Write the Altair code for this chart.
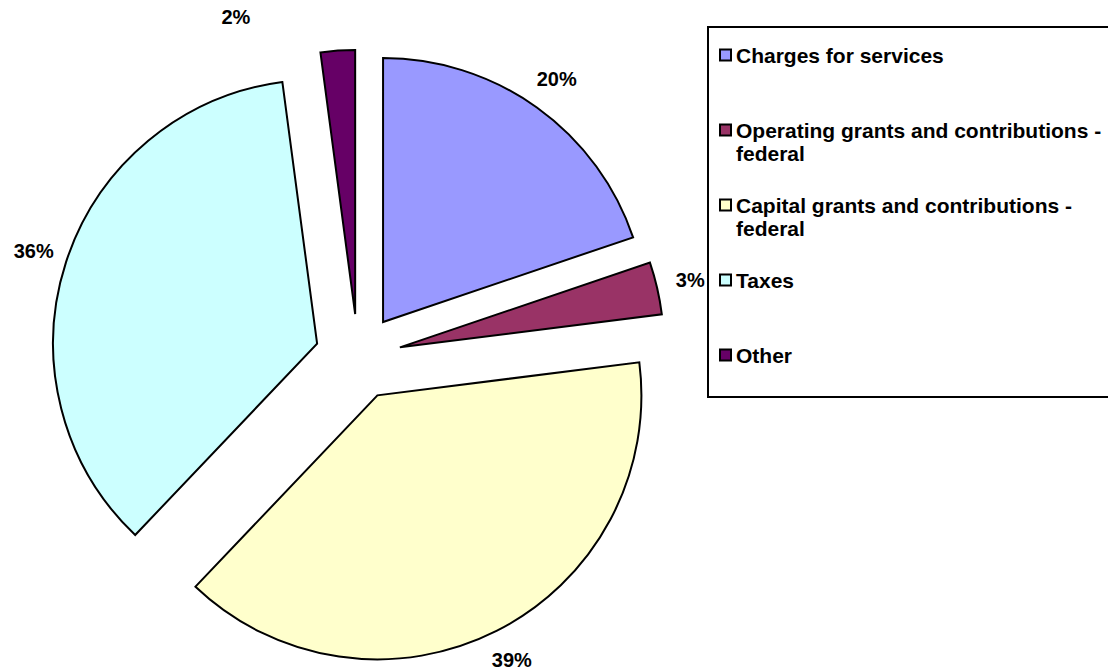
import altair as alt
import pandas as pd

# ---- data ----
categories = [
    "Charges for services",
    "Operating grants and contributions - federal",
    "Capital grants and contributions - federal",
    "Taxes",
    "Other",
]
shares = [19.8, 3.2, 39.1, 35.8, 2.1]
colors = ["#9999FF", "#993366", "#FFFFCC", "#CCFFFF", "#660066"]

df = pd.DataFrame({"category": categories, "value": shares, "idx": list(range(len(categories)))})

# ---- layout (style) ----
W, H = 1108, 671
R = 264            # pie radius in px
CX, CY = 358, 357  # pie centre in px
EXPLODE = 43 / R   # slice explosion, in radius units
LABEL_R = 341 / R  # label distance, in radius units

xs = alt.Scale(domain=[-CX / R, (W - CX) / R], nice=False, zero=False)
ys = alt.Scale(domain=[-(H - CY) / R, CY / R], nice=False, zero=False)

base = (
    alt.Chart(df)
    .transform_joinaggregate(total="sum(value)")
    .transform_window(cum="sum(value)", sort=[alt.SortField("idx")], frame=[None, 0])
    .transform_calculate(
        mid="2*PI*(datum.cum - datum.value/2)/datum.total",
        ex=f"{EXPLODE}*sin(datum.mid)",
        ey=f"{EXPLODE}*cos(datum.mid)",
        lmid="datum.mid - (datum.category == 'Other' ? 0.28 : 0)",
        lr=f"datum.category == 'Other' ? {360 / R} : {LABEL_R}",
        lx="datum.lr*sin(datum.lmid)",
        ly="datum.lr*cos(datum.lmid)",
        pct="format(datum.value/datum.total, '.0%')",
    )
)

label_expr = (
    "indexof(datum.label, ' - ') >= 0 ? split(replace(datum.label, ' - ', ' -|'), '|') : "
    "[datum.label, '']"
)

pie = base.mark_arc(outerRadius=R, stroke="black", strokeWidth=2).encode(
    theta=alt.Theta("value:Q", stack=True),
    order=alt.Order("idx:Q"),
    x=alt.X("ex:Q", scale=xs, axis=None),
    y=alt.Y("ey:Q", scale=ys, axis=None),
    color=alt.Color(
        "category:N",
        scale=alt.Scale(domain=categories, range=colors),
        sort=categories,
        legend=alt.Legend(
            orient="none",
            legendX=708,
            legendY=27,
            direction="vertical",
            title=" ",
            titleFontSize=1,
            titlePadding=17,
            strokeColor="black",
            fillColor="white",
            padding=7,
            labelFont="Liberation Sans",
            labelFontSize=21,
            labelFontWeight="bold",
            labelColor="black",
            labelLimit=1000,
            labelBaseline="alphabetic",
            labelOffset=0,
            labelExpr=label_expr,
            symbolType="M-1,-2.36L1,-2.36L1,-0.36L-1,-0.36Z",
            symbolSize=121,
            symbolStrokeColor="black",
            symbolStrokeWidth=2,
            symbolOffset=0,
            rowPadding=30,
        ),
    ),
)

labels = base.mark_text(
    font="Liberation Sans", fontSize=20, fontWeight="bold", color="black",
    align="center", baseline="middle",
).encode(
    x=alt.X("lx:Q", scale=xs, axis=None),
    y=alt.Y("ly:Q", scale=ys, axis=None),
    text="pct:N",
)

chart = (
    alt.layer(pie, labels)
    .properties(width=W, height=H, padding=0, autosize="none", background="white")
    .configure_view(stroke=None)
    .configure_legend(strokeWidth=2)
)

chart.save("out.html", embed_options={"renderer": "svg", "actions": False})
